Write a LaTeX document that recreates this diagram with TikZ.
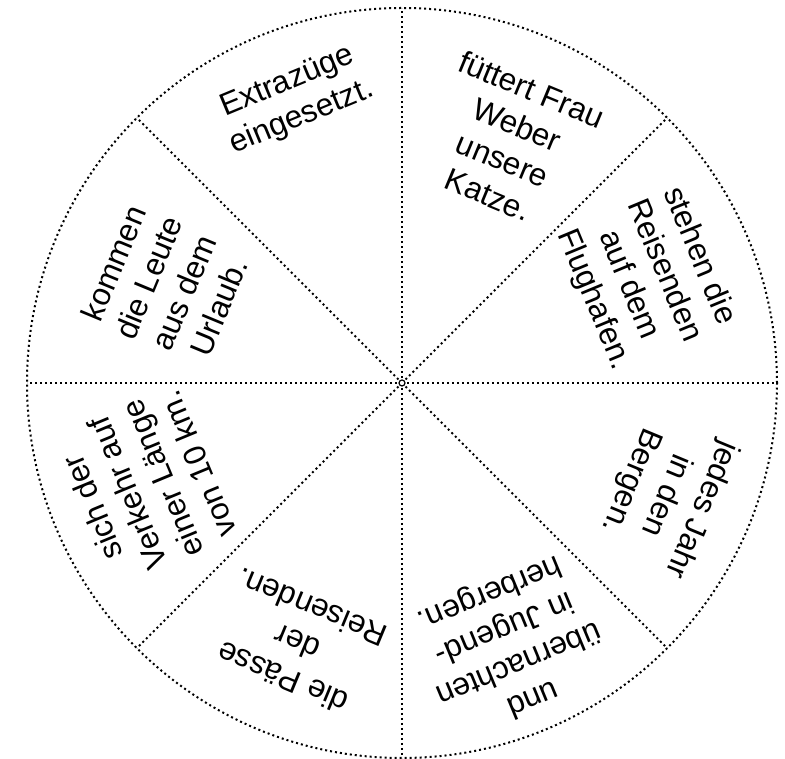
\documentclass[tikz,border=0pt]{standalone}
\usepackage{fontspec}
\setmainfont{Liberation Sans}
\usetikzlibrary{calc}
\begin{document}
\begin{tikzpicture}[x=1pt,y=1pt,
  dotline/.style={line width=2pt, dash pattern=on 2pt off 3pt},
  seg/.style={font=\fontsize{31.5}{38}\selectfont, align=center, inner sep=0pt}]
\useasboundingbox (0,0) rectangle (785,759);
\fill[white] (0,0) rectangle (785,759);
\coordinate (c) at (402,376);
\draw[dotline] (c) circle (375);
\foreach \a [count=\i] in {0,45,...,315}{
  \coordinate (p\i) at ($(c)+(\a:375)$);
}
\foreach \i in {1,...,8}{
  \draw[dotline] (c) -- (p\i);
}
\draw[line width=1.2pt, fill=white] (c) circle (3);
\node[seg, rotate=22.5]   (t1) at (295,659) {Extrazüge\\eingesetzt.};
\node[seg, rotate=-22.5]  (t2) at (510,617) {füttert Frau\\Weber\\unsere\\Katze.};
\node[seg, rotate=-67.5]  (t3) at (646,481) {stehen die\\Reisenden\\auf dem\\Flughafen.};
\node[seg, rotate=-112.5] (t4) at (666,264) {jedes Jahr\\in den\\Bergen.};
\node[seg, rotate=-157.5] (t5) at (511,114) {und\\übernachten\\in Jugend-\\herbergen.};
\node[seg, rotate=157.5]  (t6) at (297,116) {die Pässe\\der\\Reisenden.};
\node[seg, rotate=112.5]  (t7) at (145,273) {sich der\\Verkehr auf\\einer Länge\\von 10 km.};
\node[seg, rotate=67.5]   (t8) at (166,474) {kommen\\die Leute\\aus dem\\Urlaub.};
\end{tikzpicture}
\end{document}
